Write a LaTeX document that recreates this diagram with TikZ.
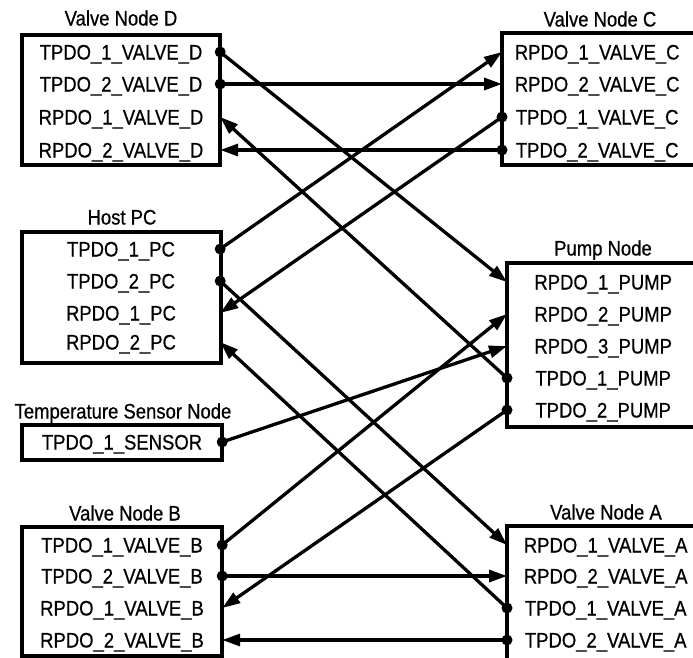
\documentclass[tikz,border=0pt]{standalone}
\usepackage{fontspec}
\setmainfont{Liberation Sans}[FakeStretch=0.88, FakeBold=0.6]
\usetikzlibrary{arrows.meta}

\tikzset{
    port/.style={inner sep=0pt, minimum height=30pt, text height=15pt, text depth=0pt,
        font=\fontsize{21}{24}\selectfont},
    title/.style={inner sep=0pt, text height=15pt, text depth=0pt,
        font=\fontsize{21}{24}\selectfont},
    frame/.style={line width=3.4pt},
    link/.style={line width=3.3pt, -{Triangle[length=18pt, width=12pt]}},
}

\begin{document}
\begin{tikzpicture}[x=1pt, y=-1pt]

    \useasboundingbox (0,0) rectangle (693,657);

    % Valve Node D
    \node[title] (tD) at (121,18) {Valve Node D};
    \draw[frame] (22,35) rectangle (220,165);
    \node[port, minimum width=198pt] (d1) at (121,52) {TPDO\_1\_VALVE\_D};
    \node[port, minimum width=198pt] (d2) at (121,84) {TPDO\_2\_VALVE\_D};
    \node[port, minimum width=198pt] (d3) at (121,117) {RPDO\_1\_VALVE\_D};
    \node[port, minimum width=198pt] (d4) at (121,150) {RPDO\_2\_VALVE\_D};

    % Host PC
    \node[title] (tH) at (122,217) {Host PC};
    \draw[frame] (22,232) rectangle (221,363);
    \node[port, minimum width=198pt] (h1) at (121,249) {TPDO\_1\_PC};
    \node[port, minimum width=198pt] (h2) at (121,281) {TPDO\_2\_PC};
    \node[port, minimum width=198pt] (h3) at (121,313) {RPDO\_1\_PC};
    \node[port, minimum width=198pt] (h4) at (121,342) {RPDO\_2\_PC};

    % Temperature Sensor Node
    \node[title] (tS) at (123,411) {Temperature Sensor Node};
    \draw[frame] (22,425) rectangle (222,460);
    \node[port, minimum width=200pt] (s1) at (122,442) {TPDO\_1\_SENSOR};

    % Valve Node B
    \node[title] (tB) at (125,513) {Valve Node B};
    \draw[frame] (22,527) rectangle (222,656);
    \node[port, minimum width=200pt] (b1) at (122,545) {TPDO\_1\_VALVE\_B};
    \node[port, minimum width=200pt] (b2) at (122,576) {TPDO\_2\_VALVE\_B};
    \node[port, minimum width=200pt] (b3) at (122,608) {RPDO\_1\_VALVE\_B};
    \node[port, minimum width=200pt] (b4) at (122,640) {RPDO\_2\_VALVE\_B};

    % Valve Node C
    \node[title] (tC) at (600,19) {Valve Node C};
    \draw[frame] (502,33) rectangle (705,165);
    \node[port, minimum width=190pt, anchor=west] (c1) at (502,52) {RPDO\_1\_VALVE\_C};
    \node[port, minimum width=190pt, anchor=west] (c2) at (502,84) {RPDO\_2\_VALVE\_C};
    \node[port, minimum width=190pt, anchor=west] (c3) at (502,117) {TPDO\_1\_VALVE\_C};
    \node[port, minimum width=190pt, anchor=west] (c4) at (502,150) {TPDO\_2\_VALVE\_C};

    % Pump Node
    \node[title] (tP) at (603,248) {Pump Node};
    \draw[frame] (507,263) rectangle (705,427);
    \node[port, minimum width=192pt, anchor=west] (p1) at (507,282) {RPDO\_1\_PUMP};
    \node[port, minimum width=192pt, anchor=west] (p2) at (507,314) {RPDO\_2\_PUMP};
    \node[port, minimum width=192pt, anchor=west] (p3) at (507,346) {RPDO\_3\_PUMP};
    \node[port, minimum width=192pt, anchor=west] (p4) at (507,378) {TPDO\_1\_PUMP};
    \node[port, minimum width=192pt, anchor=west] (p5) at (507,410) {TPDO\_2\_PUMP};

    % Valve Node A
    \node[title] (tA) at (606,512) {Valve Node A};
    \draw[frame] (507,526) rectangle (705,660);
    \node[port, minimum width=197pt, anchor=west] (a1) at (507,545) {RPDO\_1\_VALVE\_A};
    \node[port, minimum width=197pt, anchor=west] (a2) at (507,576) {RPDO\_2\_VALVE\_A};
    \node[port, minimum width=197pt, anchor=west] (a3) at (507,608) {TPDO\_1\_VALVE\_A};
    \node[port, minimum width=197pt, anchor=west] (a4) at (507,640) {TPDO\_2\_VALVE\_A};

    % PDO links
    \draw[link] (d1.east) -- (p1.west);
    \draw[link] (d2.east) -- (c2.west);
    \draw[link] (p4.west) -- (d3.east);
    \draw[link] (c4.west) -- (d4.east);
    \draw[link] (h1.east) -- (c1.west);
    \draw[link] (h2.east) -- (a1.west);
    \draw[link] (c3.west) -- (h3.east);
    \draw[link] (a3.west) -- (h4.east);
    \draw[link] (s1.east) -- (p3.west);
    \draw[link] (b1.east) -- (p2.west);
    \draw[link] (b2.east) -- (a2.west);
    \draw[link] (p5.west) -- (b3.east);
    \draw[link] (a4.west) -- (b4.east);

    % Transmit dots
    \foreach \n in {d1, d2, h1, h2, s1, b1, b2}
        \fill (\n.east) circle (5.5pt);
    \foreach \n in {c3, c4, p4, p5, a3, a4}
        \fill (\n.west) circle (5.5pt);

\end{tikzpicture}
\end{document}
